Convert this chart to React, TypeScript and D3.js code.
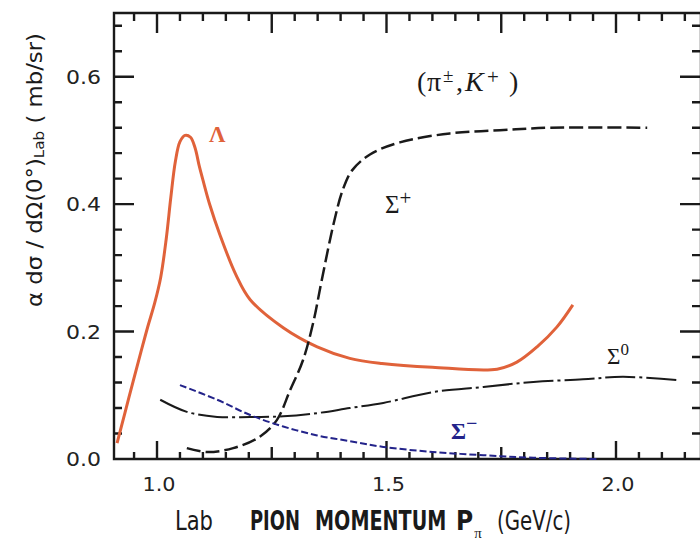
import React from 'react';
import * as d3 from 'd3';

const W = 700;
const H = 543;
const FRAME = { left: 114, right: 701, top: 13, bottom: 459 };

const xDomain = [0.9063, 2.1852];
const yDomain = [0, 0.7];

const xTickValues = [1.0, 1.5, 2.0];
const xTickLabels = ['1.0', '1.5', '2.0'];
const yTickValues = [0, 0.2, 0.4, 0.6];
const yTickLabels = ['0.0', '0.2', '0.4', '0.6'];

const lambdaX = [0.913, 0.93, 0.948, 0.965, 0.98, 0.995, 1.008, 1.02, 1.03, 1.04, 1.05, 1.061, 1.073, 1.083, 1.092, 1.1, 1.115, 1.137, 1.172, 1.203, 1.275, 1.349, 1.42, 1.49, 1.6, 1.741, 1.784, 1.828, 1.871, 1.906];
const lambdaY = [0.025, 0.072, 0.122, 0.168, 0.208, 0.245, 0.285, 0.345, 0.41, 0.467, 0.498, 0.508, 0.505, 0.488, 0.46, 0.438, 0.399, 0.352, 0.289, 0.25, 0.206, 0.176, 0.158, 0.15, 0.144, 0.141, 0.152, 0.176, 0.207, 0.242];

const sigmaPlusX = [1.065, 1.109, 1.166, 1.224, 1.261, 1.29, 1.318, 1.34, 1.359, 1.385, 1.405, 1.425, 1.464, 1.529, 1.638, 1.747, 1.856, 2.068];
const sigmaPlusY = [0.017, 0.011, 0.017, 0.035, 0.061, 0.108, 0.155, 0.213, 0.281, 0.37, 0.423, 0.453, 0.478, 0.497, 0.511, 0.516, 0.52, 0.52];

const sigmaZeroX = [1.007, 1.065, 1.131, 1.203, 1.275, 1.349, 1.42, 1.493, 1.601, 1.711, 1.82, 1.928, 2.015, 2.133];
const sigmaZeroY = [0.093, 0.074, 0.066, 0.066, 0.067, 0.072, 0.08, 0.088, 0.105, 0.113, 0.121, 0.125, 0.129, 0.124];

const sigmaMinusX = [1.05, 1.131, 1.203, 1.275, 1.349, 1.42, 1.493, 1.601, 1.711, 1.82, 1.96];
const sigmaMinusY = [0.116, 0.093, 0.069, 0.051, 0.037, 0.028, 0.019, 0.011, 0.006, 0.002, 0.0];

const ORANGE = '#e0623a';
const NAVY = '#23238a';
const INK = '#1a1a1a';
const SERIF = "'Liberation Serif', 'DejaVu Serif', serif";

export default function App() {
  const x = d3.scaleLinear().domain(xDomain).range([FRAME.left, FRAME.right]);
  const y = d3.scaleLinear().domain(yDomain).range([FRAME.bottom, FRAME.top]);

  const line = d3
    .line<[number, number]>()
    .x((d) => x(d[0]))
    .y((d) => y(d[1]))
    .curve(d3.curveCatmullRom.alpha(0.5));

  const zip = (a: number[], b: number[]) => a.map((v, i) => [v, b[i]] as [number, number]);

  const xMinor: number[] = [];
  for (let k = 19; k <= 43; k++) xMinor.push(Math.round(k * 5) / 100);
  const yMinor: number[] = [];
  for (let k = 0; k <= 17; k++) yMinor.push(Math.round(k * 4) / 100);

  const xTickLen = (v: number) => {
    const r = Math.round(v * 100);
    if (r % 50 === 0) return 18;
    if (r % 25 === 0) return 12;
    return 7;
  };
  const yTickLen = (v: number) => (Math.round(v * 100) % 20 === 0 ? 20 : 8);

  // frame and all tick marks in one path
  const p = d3.path();
  p.moveTo(FRAME.left, FRAME.top);
  p.lineTo(FRAME.right, FRAME.top);
  p.lineTo(FRAME.right, FRAME.bottom);
  p.lineTo(FRAME.left, FRAME.bottom);
  p.closePath();
  xMinor.forEach((v) => {
    const px = x(v);
    p.moveTo(px, FRAME.bottom);
    p.lineTo(px, FRAME.bottom - xTickLen(v));
    p.moveTo(px, FRAME.top);
    p.lineTo(px, FRAME.top + (xTickLen(v) > 7 ? 20 : 8));
  });
  yMinor.forEach((v) => {
    const py = y(v);
    p.moveTo(FRAME.left, py);
    p.lineTo(FRAME.left + yTickLen(v), py);
    p.moveTo(700, py);
    p.lineTo(700 - yTickLen(v), py);
  });

  return (
    <svg
      width={W}
      height={H}
      style={{ position: 'absolute', left: 0, top: 0, background: '#fff' }}
      fontFamily="'Liberation Sans', Arial, sans-serif"
    >
      <rect x={0} y={0} width={W} height={H} fill="#fff" />
      <path d={p.toString()} fill="none" stroke={INK} strokeWidth={2.4} />

      {yTickValues.map((v, i) => (
        <text key={'yl' + i} x={101} y={y(v) + 7} textAnchor="end" fontFamily="'DejaVu Sans', sans-serif" fontSize={20} fill="#222" textLength={35} lengthAdjust="spacingAndGlyphs">
          {yTickLabels[i]}
        </text>
      ))}
      {xTickValues.map((v, i) => (
        <text key={'xl' + i} x={x(v) + 2} y={491} textAnchor="middle" fontFamily="'DejaVu Sans', sans-serif" fontSize={20} fill="#222" textLength={33} lengthAdjust="spacingAndGlyphs">
          {xTickLabels[i]}
        </text>
      ))}

      <path d={line(zip(lambdaX, lambdaY)) || ''} fill="none" stroke={ORANGE} strokeWidth={3} />
      <path d={line(zip(sigmaPlusX, sigmaPlusY)) || ''} fill="none" stroke={INK} strokeWidth={2.5} strokeDasharray="14 5" />
      <path d={line(zip(sigmaZeroX, sigmaZeroY)) || ''} fill="none" stroke={INK} strokeWidth={2} strokeDasharray="30 4 3 4" />
      <path d={line(zip(sigmaMinusX, sigmaMinusY)) || ''} fill="none" stroke={NAVY} strokeWidth={2} strokeDasharray="7 3" />

      <g fontFamily={SERIF} fill={INK}>
        <text x={417} y={91} fontSize={28}>(</text>
        <text x={427} y={91} fontSize={28}>π</text>
        <text x={443} y={82} fontSize={19}>±</text>
        <text x={456} y={91} fontSize={28}>,</text>
        <text x={465} y={91} fontSize={28} fontStyle="italic">K</text>
        <text x={487} y={84} fontSize={21}>+</text>
        <text x={509} y={91} fontSize={28}>)</text>
      </g>
      <text x={209} y={142} fontFamily={SERIF} fontWeight="bold" fontSize={23} fill={ORANGE}>
        Λ
      </text>
      <text x={385} y={213} fontFamily={SERIF} fontSize={25} fill={INK}>
        Σ<tspan dy={-8} fontSize={21}>+</tspan>
      </text>
      <text x={607} y={364} fontFamily={SERIF} fontSize={23} fill={INK}>
        Σ<tspan dy={-9} fontSize={17}>0</tspan>
      </text>
      <text x={451} y={439} fontFamily={SERIF} fontWeight="bold" fontSize={23} fill={NAVY}>
        Σ<tspan dy={-9} fontSize={20}>−</tspan>
      </text>

      <g fontFamily="'DejaVu Sans Condensed', 'Liberation Sans Narrow', sans-serif" fill={INK}>
        <text x={175} y={530} fontSize={26} textLength={38} lengthAdjust="spacingAndGlyphs">Lab</text>
        <text x={250} y={530} fontSize={26} fontWeight="bold" textLength={50} lengthAdjust="spacingAndGlyphs">PION</text>
        <text transform="translate(315,530) scale(0.82,1)" fontSize={26} fontWeight="bold">MOMENTUM</text>
        <text x={456} y={530} fontSize={26} fontWeight="bold">
          P<tspan dx={1} dy={8} fontSize={15} fontWeight="normal" fontFamily={SERIF}>π</tspan>
        </text>
        <text x={497} y={530} fontSize={26} textLength={74} lengthAdjust="spacingAndGlyphs">(GeV/c)</text>
      </g>

      <text
        transform="translate(42,307) rotate(-90)"
        fontFamily="'DejaVu Sans', sans-serif"
        fontSize={21}
        fill={INK}
        textLength={274}
        lengthAdjust="spacingAndGlyphs"
      >
        α dσ / dΩ(0°)<tspan fontSize={14} dy={2}>Lab</tspan>
        <tspan dy={-2}> ( mb/sr)</tspan>
      </text>
    </svg>
  );
}
